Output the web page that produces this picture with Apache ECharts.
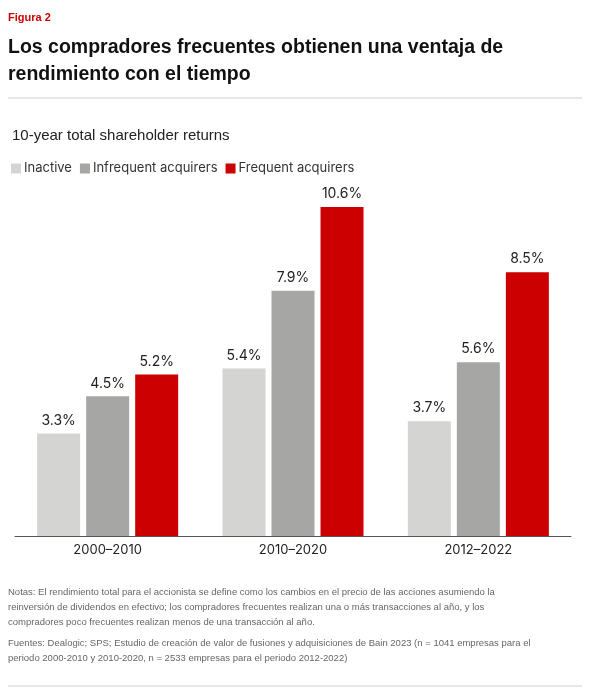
<!DOCTYPE html>
<html lang="es">
<head>
<meta charset="UTF-8">
<title>Figura 2</title>
<script src="https://cdn.jsdelivr.net/npm/echarts@6/dist/echarts.min.js"></script>
<style>
  body { margin: 0; background: #fff; font-family: Inter, "Noto Sans", sans-serif; }
  #wrap { width: 608px; height: 690px; position: relative; }
  #chart { position: absolute; left: 0; top: 0; width: 608px; height: 690px; }
</style>
</head>
<body>
<div id="wrap"><div id="chart"></div></div>
<script>
var categories = ['2000–2010', '2010–2020', '2012–2022'];
var inactive = [3.3, 5.4, 3.7];
var infrequent = [4.5, 7.9, 5.6];
var frequent = [5.2, 10.6, 8.5];

var chart = echarts.init(document.getElementById('chart'));
var lbl = { show: true, position: 'top', formatter: function (p) { return p.value.toFixed(1) + '%'; },
  color: '#222', fontSize: 14, distance: 6 };
var notes = 'Notas: El rendimiento total para el accionista se define como los cambios en el precio de las acciones asumiendo la\nreinversión de dividendos en efectivo; los compradores frecuentes realizan una o más transacciones al año, y los\ncompradores poco frecuentes realizan menos de una transacción al año.';
var sources = 'Fuentes: Dealogic; SPS; Estudio de creación de valor de fusiones y adquisiciones de Bain 2023 (n = 1041 empresas para el\nperiodo 2000-2010 y 2010-2020, n = 2533 empresas para el periodo 2012-2022)';
chart.setOption({
  textStyle: { fontFamily: 'Inter, "Noto Sans", sans-serif' },
  graphic: [
    { type: 'text', left: 8, top: 12, style: { text: 'Figura 2', fill: '#cc0000', fontSize: 11, fontWeight: 'bold' } },
    { type: 'text', left: 8, top: 34, style: { text: 'Los compradores frecuentes obtienen una ventaja de\nrendimiento con el tiempo', fill: '#111', fontSize: 19.5, fontWeight: 'bold', lineHeight: 27 } },
    { type: 'line', shape: { x1: 8, y1: 98, x2: 582, y2: 98 }, style: { stroke: '#ccc', lineWidth: 1 } },
    { type: 'text', left: 12, top: 128, style: { text: '10-year total shareholder returns', fill: '#222', fontSize: 15 } },
    { type: 'text', left: 8, top: 585, style: { text: notes, fill: '#666', fontSize: 9.5, lineHeight: 15 } },
    { type: 'text', left: 8, top: 636, style: { text: sources, fill: '#666', fontSize: 9.5, lineHeight: 15 } },
    { type: 'line', shape: { x1: 8, y1: 686, x2: 582, y2: 686 }, style: { stroke: '#ccc', lineWidth: 1 } }
  ],
  legend: {
    left: 6, top: 157, itemWidth: 10, itemHeight: 10, itemGap: 8,
    icon: 'rect', textStyle: { color: '#333', fontSize: 13, padding: [0, 0, 0, -2] },
    data: ['Inactive', 'Infrequent acquirers', 'Frequent acquirers']
  },
  grid: { left: 15, right: 37, top: 207, bottom: 154 },
  xAxis: {
    type: 'category', data: categories,
    axisTick: { show: false },
    axisLine: { lineStyle: { color: '#555', width: 1 } },
    axisLabel: { color: '#222', fontSize: 13, margin: 8 }
  },
  yAxis: { type: 'value', min: 0, max: 10.6, show: false, splitLine: { show: false } },
  series: [
    { name: 'Inactive', type: 'bar', data: inactive, itemStyle: { color: '#d4d4d2' }, label: lbl,
      barWidth: 43, barGap: '14%', barCategoryGap: '24%' },
    { name: 'Infrequent acquirers', type: 'bar', data: infrequent, itemStyle: { color: '#a6a6a4' }, label: lbl, barWidth: 43 },
    { name: 'Frequent acquirers', type: 'bar', data: frequent, itemStyle: { color: '#cc0000' }, label: lbl, barWidth: 43 }
  ]
});
</script>
</body>
</html>
